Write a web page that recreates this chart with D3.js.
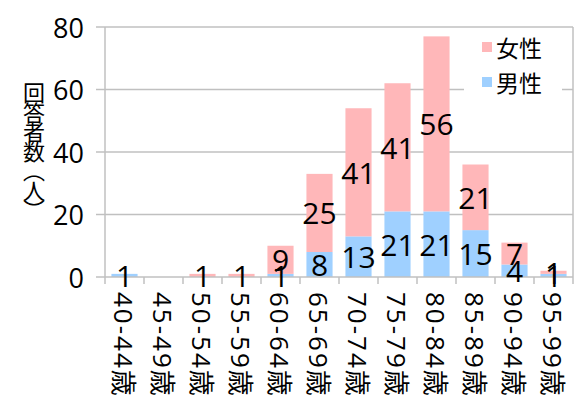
<!DOCTYPE html>
<html>
<head>
<meta charset="utf-8">
<script src="https://d3js.org/d3.v7.min.js"></script>
<style>
  body { margin: 0; background: #fff; }
  text { font-family: "Open Sans", "Noto Sans CJK JP", sans-serif; fill: #000; }
  .cjk { font-family: "Noto Sans CJK JP", sans-serif; }
</style>
</head>
<body>
<svg id="chart" width="588" height="417"></svg>
<script>
// 年齢区分
const categories = ['40-44歳', '45-49歳', '50-54歳', '55-59歳', '60-64歳', '65-69歳',
                    '70-74歳', '75-79歳', '80-84歳', '85-89歳', '90-94歳', '95-99歳'];
const male   = [1, 0, 0, 0, 1, 8, 13, 21, 21, 15, 4, 1];
const female = [0, 0, 1, 1, 9, 25, 41, 41, 56, 21, 7, 1];
const yTicks = [0, 20, 40, 60, 80];

const svg = d3.select('#chart');
const margin = { top: 27, right: 15, bottom: 140, left: 105 };
const width = 588 - margin.left - margin.right;
const height = 417 - margin.top - margin.bottom;
const gridColor = '#c0c0c0';

const g = svg.append('g').attr('transform', `translate(${margin.left},${margin.top})`);

const x = d3.scaleBand().domain(categories).range([0, width]).paddingInner(0.33).paddingOuter(0.165);
const y = d3.scaleLinear().domain([0, 80]).range([height, 0]);

// グリッド
g.selectAll('.grid').data(yTicks.slice(1)).enter().append('line')
    .attr('x1', 0).attr('x2', width)
    .attr('y1', d => y(d)).attr('y2', d => y(d))
    .attr('stroke', gridColor).attr('stroke-width', 1.5);
g.append('line').attr('x1', width).attr('x2', width).attr('y1', 0).attr('y2', height)
    .attr('stroke', gridColor).attr('stroke-width', 1.5);

const rows = categories.map((c, i) => ({ cat: c, male: male[i], female: female[i] }));
const stacked = d3.stack().keys(['male', 'female'])(rows);
const colors = { male: '#9fd0ff', female: '#ffb7b9' };

stacked.forEach(layer => {
    g.selectAll('.bar-' + layer.key).data(layer).enter().append('rect')
        .attr('x', d => x(d.data.cat))
        .attr('y', d => y(d[1]))
        .attr('width', x.bandwidth())
        .attr('height', d => y(d[0]) - y(d[1]))
        .attr('fill', colors[layer.key]);
});

// 軸
const step = x.step();
g.append('line').attr('x1', 0).attr('x2', width).attr('y1', height).attr('y2', height)
    .attr('stroke', gridColor).attr('stroke-width', 1.5);
g.append('line').attr('x1', 0).attr('x2', 0).attr('y1', 0).attr('y2', height)
    .attr('stroke', gridColor).attr('stroke-width', 1.5);
g.selectAll('.xtick').data(d3.range(categories.length + 1)).enter().append('line')
    .attr('x1', d => d * step).attr('x2', d => d * step)
    .attr('y1', height).attr('y2', height + 7)
    .attr('stroke', gridColor).attr('stroke-width', 1.5);
g.selectAll('.ytick').data(yTicks).enter().append('line')
    .attr('x1', -9).attr('x2', 0)
    .attr('y1', d => y(d)).attr('y2', d => y(d))
    .attr('stroke', gridColor).attr('stroke-width', 1.5);

g.selectAll('.ylabel').data(yTicks).enter().append('text')
    .attr('x', -21).attr('y', d => y(d))
    .attr('text-anchor', 'end').attr('dominant-baseline', 'central')
    .style('font-size', '27px')
    .text(d => d);

g.selectAll('.xlabel').data(categories).enter().append('text')
    .attr('transform', d => `translate(${x(d) + x.bandwidth() / 2 - 1},${height + 15}) rotate(90)`)
    .attr('dominant-baseline', 'central')
    .style('font-size', '26px')
    .style('letter-spacing', '2px')
    .text(d => d);

// データラベル
stacked.forEach(layer => {
    g.selectAll('.lbl-' + layer.key).data(layer.filter(d => d[1] - d[0] > 0)).enter().append('text')
        .attr('x', d => x(d.data.cat) + x.bandwidth() / 2)
        .attr('y', d => y((d[0] + d[1]) / 2))
        .attr('text-anchor', 'middle').attr('dominant-baseline', 'central')
        .style('font-size', '30px')
        .text(d => d[1] - d[0]);
});

// 軸タイトル（縦書き）
svg.append('text')
    .attr('class', 'cjk')
    .attr('x', 34).attr('y', 82)
    .style('writing-mode', 'vertical-rl')
    .style('font-size', '22px')
    .style('letter-spacing', '-2.5px')
    .text('回答者数（人）');

// 凡例
const legendItems = [{ key: 'female', label: '女性' }, { key: 'male', label: '男性' }];
const legend = svg.append('g').attr('transform', 'translate(464,30)');
legend.append('rect').attr('x', 0).attr('y', 0).attr('width', 98).attr('height', 68).attr('fill', '#fff');
legendItems.forEach((d, i) => {
    legend.append('rect').attr('x', 18).attr('y', 12 + i * 35).attr('width', 10).attr('height', 10)
        .attr('fill', colors[d.key]);
    legend.append('text').attr('class', 'cjk')
        .attr('x', 32).attr('y', 17 + i * 35)
        .attr('dominant-baseline', 'central')
        .style('font-size', '23px')
        .text(d.label);
});
</script>
</body>
</html>
